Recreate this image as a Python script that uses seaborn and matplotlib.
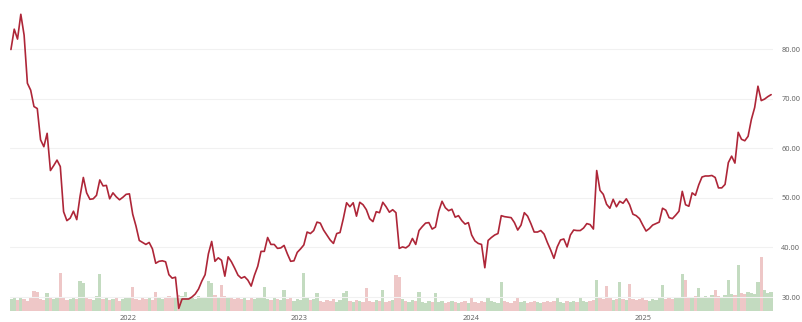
import numpy as np
import pandas as pd
import matplotlib
matplotlib.use("Agg")
import matplotlib.pyplot as plt
import matplotlib.dates as mdates
import seaborn as sns

# ---- data (weekly) ----
start_date = "2021-04-27"
close = [
    79.9, 84.0, 82.0, 87.0, 82.8, 73.1, 71.7, 68.4, 68.0, 61.7,
    60.3, 63.0, 55.5, 56.5, 57.6, 56.3, 47.2, 45.4, 45.9, 47.3,
    45.6, 50.3, 54.1, 51.0, 49.7, 49.8, 50.5, 53.6, 52.4, 52.5,
    49.8, 51.0, 50.2, 49.6, 50.1, 50.7, 50.8, 46.7, 44.3, 41.4,
    41.0, 40.6, 41.0, 39.7, 36.8, 37.2, 37.3, 37.1, 34.5, 33.8,
    34.0, 27.7, 29.6, 29.6, 29.6, 30.0, 30.6, 31.6, 33.2, 34.5,
    38.7, 41.2, 37.2, 37.9, 37.4, 34.2, 38.1, 37.1, 35.8, 34.4,
    33.8, 34.1, 33.4, 32.2, 34.4, 36.2, 39.2, 39.2, 42.0, 40.6,
    40.6, 39.8, 39.9, 40.4, 38.7, 37.2, 37.3, 39.0, 39.7, 40.5,
    43.1, 42.8, 43.4, 45.1, 44.9, 43.5, 42.5, 41.5, 40.8, 42.8,
    43.0, 45.8, 49.0, 48.2, 49.0, 46.3, 49.1, 48.6, 47.6, 45.8,
    45.2, 47.2, 47.0, 49.1, 48.2, 47.1, 47.6, 47.0, 39.8, 40.1,
    39.9, 40.4, 41.8, 40.6, 43.4, 44.2, 44.9, 45.0, 43.7, 44.1,
    47.3, 49.3, 48.0, 47.4, 47.7, 46.1, 46.4, 45.4, 44.7, 45.0,
    42.5, 41.3, 40.8, 40.6, 35.9, 41.4, 42.0, 42.5, 42.8, 46.4,
    46.2, 46.1, 46.0, 45.0, 43.5, 44.5, 47.0, 46.3, 44.8, 43.1,
    43.1, 43.4, 42.7, 41.0, 39.5, 37.8, 40.1, 41.5, 41.7, 40.1,
    42.5, 43.5, 43.4, 43.4, 43.9, 44.8, 44.6, 43.7, 55.5, 51.5,
    50.7, 48.7, 47.9, 49.7, 48.2, 49.3, 48.9, 49.8, 48.6, 46.7,
    46.4, 45.8, 44.5, 43.3, 43.8, 44.5, 44.8, 45.1, 47.9, 47.5,
    46.0, 45.8, 46.5, 47.3, 51.3, 48.6, 48.3, 51.0, 50.5, 52.6,
    54.2, 54.4, 54.4, 54.5, 54.1, 52.0, 52.0, 52.7, 57.1, 58.4,
    57.0, 63.2, 61.8, 61.5, 62.4, 65.8, 68.2, 72.5, 69.6, 69.9,
    70.4, 70.8,
]
volume = [
    12, 13, 11, 14, 12, 10, 13, 20, 19, 12,
    11, 18, 13, 12, 14, 38, 13, 11, 12, 14,
    12, 30, 28, 13, 12, 11, 15, 37, 12, 13,
    11, 12, 14, 10, 12, 13, 14, 24, 12, 11,
    13, 12, 14, 11, 19, 13, 12, 14, 15, 13,
    14, 16, 15, 19, 14, 13, 12, 15, 14, 13,
    30, 28, 16, 14, 26, 15, 13, 14, 12, 13,
    12, 14, 11, 13, 12, 14, 13, 24, 12, 11,
    13, 12, 11, 21, 12, 13, 10, 12, 11, 38,
    14, 11, 12, 18, 10, 9, 11, 10, 12, 9,
    11, 18, 20, 10, 9, 11, 10, 9, 23, 10,
    9, 11, 10, 21, 9, 10, 11, 36, 34, 12,
    10, 9, 11, 10, 19, 9, 8, 10, 9, 18,
    9, 10, 8, 9, 10, 9, 8, 9, 10, 8,
    13, 9, 8, 10, 9, 14, 10, 9, 8, 29,
    10, 9, 8, 10, 14, 9, 10, 8, 9, 10,
    9, 8, 9, 10, 9, 10, 13, 9, 8, 10,
    9, 10, 9, 14, 10, 9, 10, 11, 31, 14,
    12, 25, 13, 11, 12, 29, 12, 11, 27, 12,
    11, 12, 13, 11, 10, 12, 11, 13, 26, 12,
    13, 12, 14, 13, 37, 31, 14, 13, 15, 23,
    14, 15, 13, 16, 21, 15, 14, 16, 31, 17,
    16, 46, 18, 17, 19, 18, 17, 29, 54, 21,
    18, 19,
]
year_ticks = ["2022", "2023", "2024", "2025"]
price_ticks = [30, 40, 50, 60, 70, 80]

dates = pd.date_range(start_date, periods=len(close), freq="7D")
df = pd.DataFrame({"date": dates, "close": close, "volume": volume})
prev = df["close"].shift(1).fillna(df["close"])
df["up"] = df["close"] >= prev

# ---- style ----
sns.set_theme(style="white")
plt.rcParams["font.family"] = ["Noto Sans", "DejaVu Sans"]

W, H = 802, 322
fig = plt.figure(figsize=(W / 100, H / 100), dpi=100)
fig.patch.set_facecolor("white")
pos = [10 / W, 11 / H, 763 / W, 311 / H]
ax = fig.add_axes(pos)
axv = ax.twinx()
axv.set_zorder(ax.get_zorder() - 1)
ax.patch.set_visible(False)

# volume bars
green = "#9cc497"
red = "#e3a3a3"
cols = [green if u else red for u in df["up"]]
axv.bar(df["date"], df["volume"], width=7.0, color=cols, alpha=0.6,
        linewidth=0, align="center")
axv.set_ylim(0, 311)
axv.set_yticks([])
for s in axv.spines.values():
    s.set_visible(False)

# price line
sns.lineplot(data=df, x="date", y="close", ax=ax, color="#ae2638",
             linewidth=1.2, zorder=3)
ax.set_ylim(27.18, 89.88)
ax.set_xlim(dates[0] - pd.Timedelta(days=2), dates[-1] + pd.Timedelta(days=4))

ax.yaxis.tick_right()
ax.yaxis.set_label_position("right")
ax.set_yticks(price_ticks)
ax.set_yticklabels([f"{v:.2f}" for v in price_ticks])
ax.set_xticks([pd.Timestamp(f"{y}-01-01") for y in year_ticks])
ax.set_xticklabels(year_ticks)
ax.tick_params(axis="y", length=0, pad=6, labelsize=5.3, labelcolor="#666666")
ax.tick_params(axis="x", length=0, pad=3, labelsize=5.3, labelcolor="#666666")
ax.set_xlabel("")
ax.set_ylabel("")
ax.grid(axis="y", color="#f1f1f1", linewidth=0.8)
ax.grid(axis="x", visible=False)
ax.set_axisbelow(True)
for s in ax.spines.values():
    s.set_visible(False)

fig.savefig("out.png", dpi=100, facecolor="white")
